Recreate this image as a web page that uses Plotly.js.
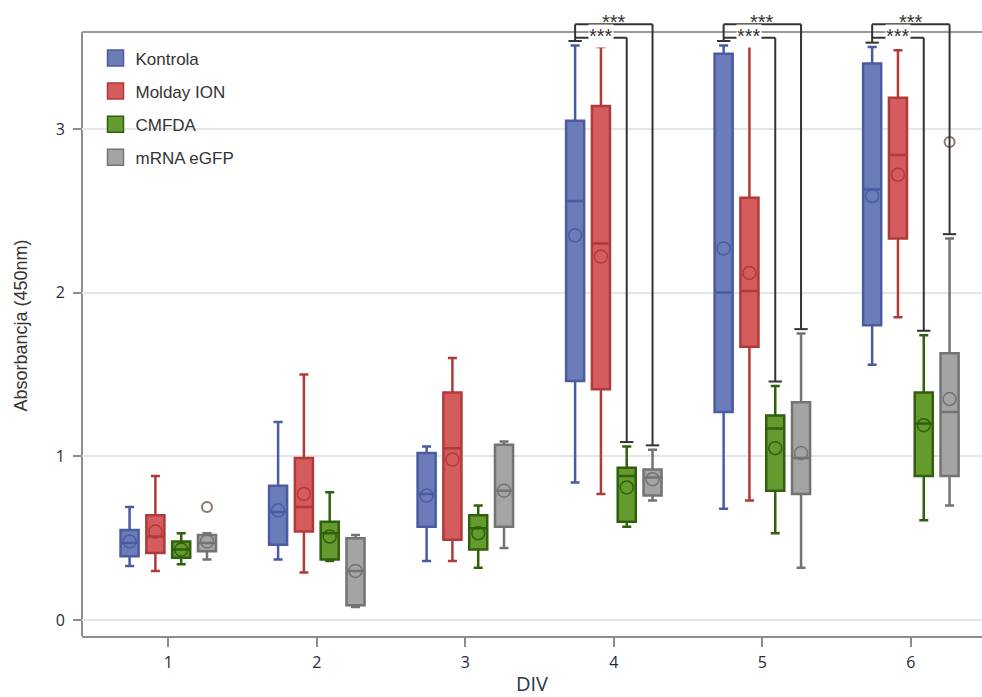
<!DOCTYPE html>
<html>
<head>
<meta charset="utf-8">
<script src="https://cdn.plot.ly/plotly-3.0.1.min.js"></script>
<style>html,body{margin:0;padding:0;background:#fff;}#chart{width:982px;height:697px;}</style>
</head>
<body>
<div id="chart"></div>
<script>
// ---------- data ----------
const divs = [1, 2, 3, 4, 5, 6];
const tickLabels = ['1', '2', '3', '4', '5', '6'];
const seriesNames = ['Kontrola', 'Molday ION', 'CMFDA', 'mRNA eGFP'];

const kontrolaLow  = [0.33, 0.37, 0.36, 0.84, 0.68, 1.56];
const kontrolaQ1   = [0.39, 0.46, 0.57, 1.46, 1.27, 1.80];
const kontrolaMed  = [0.47, 0.66, 0.77, 2.56, 2.00, 2.63];
const kontrolaQ3   = [0.55, 0.82, 1.02, 3.05, 3.46, 3.40];
const kontrolaHigh = [0.69, 1.21, 1.06, 3.51, 3.51, 3.50];
const kontrolaMean = [0.48, 0.67, 0.76, 2.35, 2.27, 2.59];

const moldayLow  = [0.30, 0.29, 0.36, 0.77, 0.73, 1.85];
const moldayQ1   = [0.41, 0.54, 0.49, 1.41, 1.67, 2.33];
const moldayMed  = [0.51, 0.69, 1.05, 2.30, 2.01, 2.84];
const moldayQ3   = [0.64, 0.99, 1.39, 3.14, 2.58, 3.19];
const moldayHigh = [0.88, 1.50, 1.60, 3.50, 3.51, 3.48];
const moldayMean = [0.54, 0.77, 0.98, 2.22, 2.12, 2.72];

const cmfdaLow  = [0.34, 0.36, 0.32, 0.57, 0.53, 0.61];
const cmfdaQ1   = [0.38, 0.37, 0.43, 0.60, 0.79, 0.88];
const cmfdaMed  = [0.43, 0.53, 0.56, 0.88, 1.17, 1.20];
const cmfdaQ3   = [0.48, 0.60, 0.64, 0.93, 1.25, 1.39];
const cmfdaHigh = [0.53, 0.78, 0.70, 1.06, 1.43, 1.74];
const cmfdaMean = [0.43, 0.51, 0.53, 0.81, 1.05, 1.19];

const mrnaLow  = [0.37, 0.08, 0.44, 0.73, 0.32, 0.70];
const mrnaQ1   = [0.42, 0.09, 0.57, 0.76, 0.77, 0.88];
const mrnaMed  = [0.47, 0.30, 0.79, 0.87, 0.99, 1.27];
const mrnaQ3   = [0.52, 0.50, 1.07, 0.92, 1.33, 1.63];
const mrnaHigh = [0.53, 0.52, 1.09, 1.04, 1.75, 2.33];
const mrnaMean = [0.48, 0.30, 0.79, 0.86, 1.02, 1.35];

const outlierDiv   = [1, 6];
const outlierValue = [0.69, 2.92];

const sigDivs  = [4, 5, 6];
const sigLabel = '***';

// ---------- styles / layout ----------
const fillColors = ['#6c7cb8', '#d55c5c', '#649a2e', '#a4a4a4'];
const lineColors = ['#4a5ba3', '#b03a3a', '#2f600c', '#737373'];
const boxGap = 0.305, boxGroupGap = 0.30;
const yRange = [-0.0977, 3.696];
const xRange = [0.419, 6.479];
const frameTop = 3.592;
const capPad = 0.027, capHalf = 0.045;
const innerLevel = 3.557, outerLevel = 3.639;

const stats = [
  [kontrolaLow, kontrolaQ1, kontrolaMed, kontrolaQ3, kontrolaHigh, kontrolaMean],
  [moldayLow, moldayQ1, moldayMed, moldayQ3, moldayHigh, moldayMean],
  [cmfdaLow, cmfdaQ1, cmfdaMed, cmfdaQ3, cmfdaHigh, cmfdaMean],
  [mrnaLow, mrnaQ1, mrnaMed, mrnaQ3, mrnaHigh, mrnaMean]
];
// same offset formula Plotly uses for grouped boxes
const nSeries = seriesNames.length;
const offset = i => (1 - boxGap) * (-0.5 + (i + 0.5) / nSeries);

const traces = [];
stats.forEach((s, i) => {
  traces.push({
    type: 'box', name: seriesNames[i], x: divs,
    lowerfence: s[0], q1: s[1], median: s[2], q3: s[3], upperfence: s[4],
    fillcolor: fillColors[i], line: {color: lineColors[i], width: 2.5},
    boxpoints: false, whiskerwidth: 0.5, showlegend: false, hoverinfo: 'skip'
  });
});
// mean markers
stats.forEach((s, i) => {
  traces.push({
    type: 'scatter', mode: 'markers', x: divs.map(d => d + offset(i)), y: s[5],
    marker: {symbol: 'circle-open', size: 13, color: lineColors[i], line: {width: 1.5}},
    showlegend: false, hoverinfo: 'skip'
  });
});
// outliers (mRNA eGFP)
traces.push({
  type: 'scatter', mode: 'markers', x: outlierDiv.map(d => d + offset(3)), y: outlierValue,
  marker: {symbol: 'circle-open', size: 10, color: '#8a7870', line: {width: 2}},
  showlegend: false, hoverinfo: 'skip'
});
// legend entries
seriesNames.forEach((n, i) => {
  traces.push({
    type: 'scatter', mode: 'markers', name: n, x: [null], y: [null], legendgroup: 'g' + i,
    marker: {symbol: 'square', size: 22, color: fillColors[i], line: {color: lineColors[i], width: 1.5}}
  });
});

// significance brackets
const shapes = [];
const bl = {color: '#333333', width: 2};
const seg = (x0, y0, x1, y1) => shapes.push({type: 'line', xref: 'x', yref: 'y', x0, y0, x1, y1, line: bl});
const annotations = [];
const starFont = {family: 'Liberation Sans, Arial, sans-serif', size: 20, color: '#333'};
sigDivs.forEach(d => {
  const k = divs.indexOf(d);
  const kx = d + offset(0), cx = d + offset(2), mx = d + offset(3);
  const kCap = Math.max(kontrolaHigh[k], moldayHigh[k]) + capPad;
  const cCap = cmfdaHigh[k] + capPad;
  const mCap = mrnaHigh[k] + capPad;
  seg(kx - capHalf, kCap, kx + capHalf, kCap);
  seg(kx, kCap, kx, outerLevel);
  seg(kx, innerLevel, cx, innerLevel);
  seg(cx, innerLevel, cx, cCap);
  seg(cx - capHalf, cCap, cx + capHalf, cCap);
  seg(kx, outerLevel, mx, outerLevel);
  seg(mx, outerLevel, mx, mCap);
  seg(mx - capHalf, mCap, mx + capHalf, mCap);
  annotations.push({x: (kx + cx) / 2, y: innerLevel, xref: 'x', yref: 'y', text: sigLabel, showarrow: false,
    yanchor: 'bottom', yshift: -10, bgcolor: '#ffffff', borderpad: 0, font: starFont});
  annotations.push({x: (kx + mx) / 2, y: outerLevel, xref: 'x', yref: 'y', text: sigLabel, showarrow: false,
    yanchor: 'bottom', yshift: -10, borderpad: 0, font: starFont});
});
// frame (left and top)
shapes.push({type: 'line', xref: 'paper', yref: 'y', x0: 0, x1: 0, y0: yRange[0], y1: frameTop, line: {color: '#8c8c8c', width: 2}, layer: 'below'});
shapes.push({type: 'line', xref: 'paper', yref: 'y', x0: 0, x1: 1, y0: frameTop, y1: frameTop, line: {color: '#9a9a9a', width: 2}, layer: 'below'});

const tickFont = {family: 'Open Sans, sans-serif', size: 16, color: '#262b38'};
const layout = {
  width: 982, height: 697,
  margin: {l: 82, r: 0, t: 15, b: 61},
  paper_bgcolor: '#ffffff', plot_bgcolor: '#ffffff',
  boxmode: 'group', boxgap: boxGap, boxgroupgap: boxGroupGap,
  showlegend: true,
  legend: {x: 0.015, y: 0.959, xanchor: 'left', yanchor: 'top', traceorder: 'grouped', tracegroupgap: 8,
    bgcolor: 'rgba(0,0,0,0)', font: {family: 'Liberation Sans, Arial, sans-serif', size: 17, color: '#333'}},
  xaxis: {range: xRange, tickvals: divs, ticktext: tickLabels, showgrid: false, zeroline: false,
    showline: true, linecolor: '#8c8c8c', linewidth: 2, ticks: 'outside', ticklen: 9, tickwidth: 2, tickcolor: '#8c8c8c',
    tickfont: tickFont, ticklabelstandoff: 2,
    title: {text: 'DIV', standoff: 16, font: {family: 'Open Sans, sans-serif', size: 20, color: '#2e3545'}}},
  yaxis: {range: yRange, tickvals: [0, 1, 2, 3], showgrid: true, gridcolor: '#e6e6e6', gridwidth: 2, zeroline: false,
    showline: false, ticks: 'outside', ticklen: 8, tickwidth: 2, tickcolor: '#8c8c8c',
    tickfont: tickFont, ticklabelstandoff: 5,
    title: {text: 'Absorbancja (450nm)', standoff: 23, font: {family: 'Liberation Sans, Arial, sans-serif', size: 18, color: '#333'}}},
  shapes: shapes,
  annotations: annotations
};
Plotly.newPlot('chart', traces, layout, {displayModeBar: false, staticPlot: true});
</script>
</body>
</html>
